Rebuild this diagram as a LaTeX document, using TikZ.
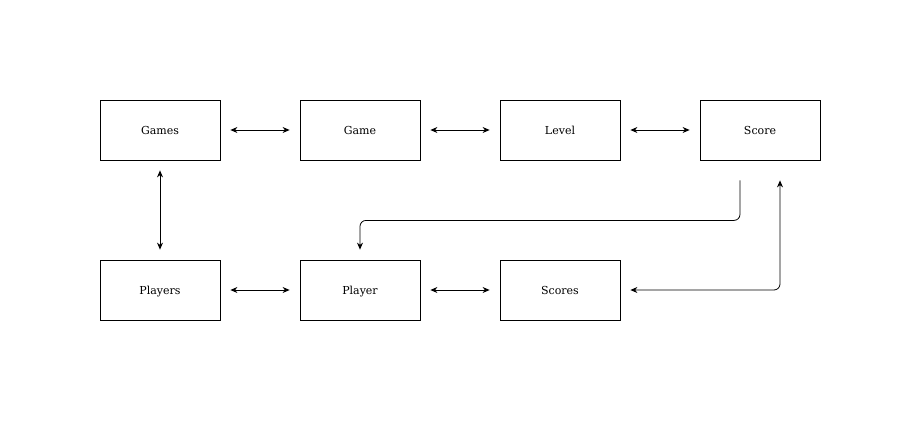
\documentclass[tikz,border=0pt]{standalone}
\usepackage{fontspec}
\setmainfont{DejaVu Serif}
\usetikzlibrary{arrows.meta,calc}
\begin{document}
\begin{tikzpicture}[x=1pt,y=-1pt,
  box/.style={draw=black,line width=0.8pt,minimum width=120pt,minimum height=60pt,
    inner sep=0pt,text height=8pt,text depth=0pt,font=\fontsize{11}{13}\selectfont},
  link/.style={draw=black,line width=0.8pt,{Stealth[length=7pt,width=6pt]}-{Stealth[length=7pt,width=6pt]},
    shorten <=10pt,shorten >=10pt},
  flow/.style={draw=black,line width=0.8pt,rounded corners=6pt}]
\useasboundingbox (0,0) rectangle (921,421);
% top row
\node[box] (games)   at (160,130) {Games};
\node[box] (game)    at (360,130) {Game};
\node[box] (level)   at (560,130) {Level};
\node[box] (score)   at (760,130) {Score};
% bottom row
\node[box] (players) at (160,290) {Players};
\node[box] (player)  at (360,290) {Player};
\node[box] (scores)  at (560,290) {Scores};
% neighbour links
\draw[link] (games.east) -- (game.west);
\draw[link] (game.east) -- (level.west);
\draw[link] (level.east) -- (score.west);
\draw[link] (games.south) -- (players.north);
\draw[link] (players.east) -- (player.west);
\draw[link] (player.east) -- (scores.west);
% score routes
\coordinate (sOut) at ($(score.south)+(-20,20)$);
\coordinate (sIn)  at ($(score.south)+(20,20)$);
\draw[flow,-{Stealth[length=7pt,width=6pt]}] (sOut) -- ++(0,40) -| ($(player.north)+(0,-10)$);
\draw[flow,{Stealth[length=7pt,width=6pt]}-{Stealth[length=7pt,width=6pt]}]
  ($(scores.east)+(10,0)$) -| (sIn);
\end{tikzpicture}
\end{document}
